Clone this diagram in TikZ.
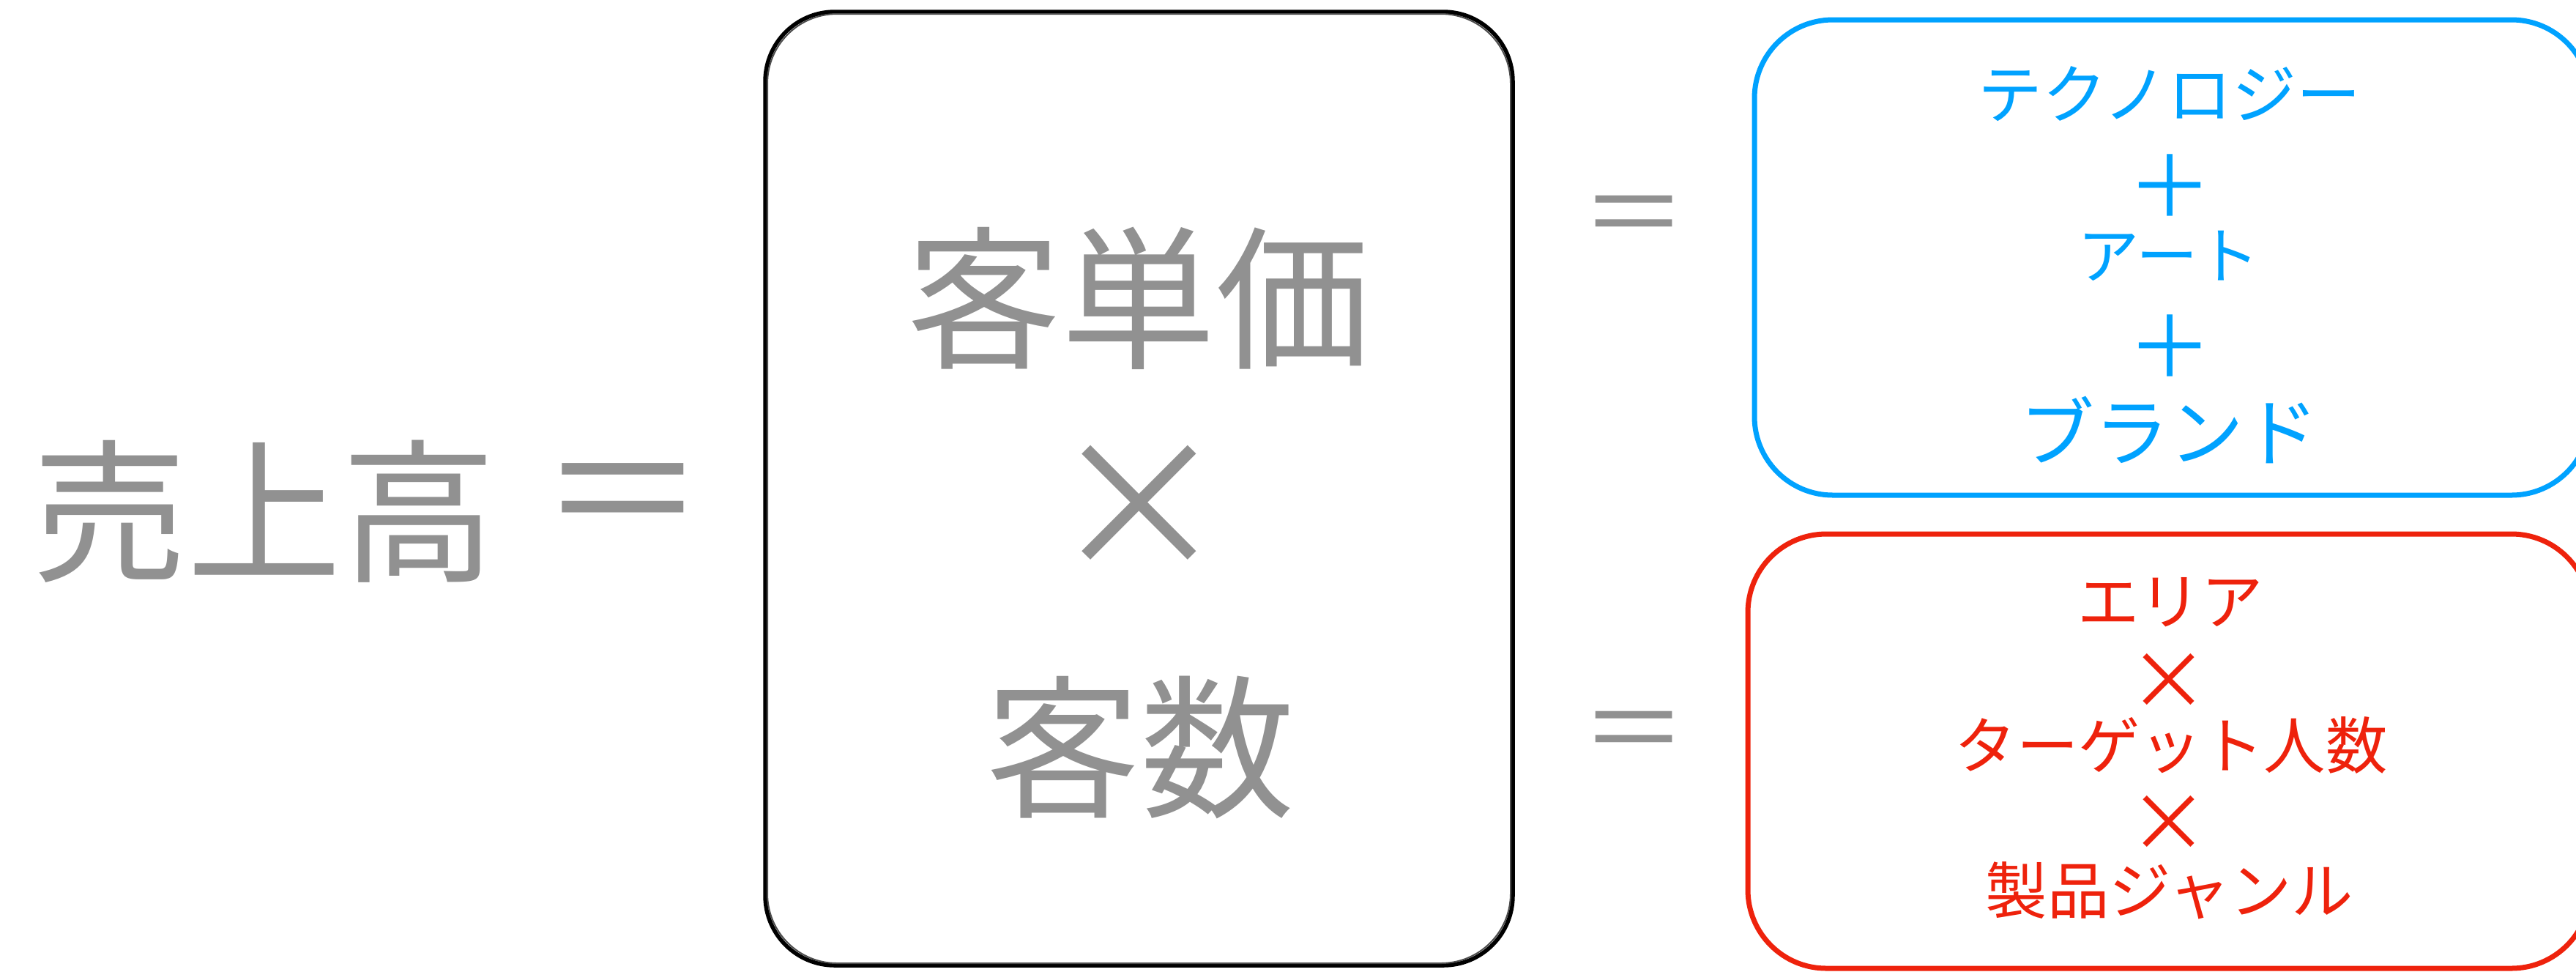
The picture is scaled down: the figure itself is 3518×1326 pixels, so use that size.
\documentclass[tikz,border=0pt]{standalone}
\usepackage{fontspec}
\setmainfont{Noto Sans CJK JP}
\definecolor{txtgray}{RGB}{145,145,145}
\definecolor{skyblue}{RGB}{0,162,255}
\definecolor{brickred}{RGB}{238,34,12}
\begin{document}
\begin{tikzpicture}[x=0.01cm, y=-0.01cm, line join=round, line cap=round,
  every node/.style={inner sep=0pt, outer sep=0pt},
  big/.style={text=txtgray, font=\fontsize{60}{60}\selectfont},
  small/.style={font=\fontsize{24}{24}\selectfont},
  sign/.style={font=\fontsize{33}{33}\selectfont}]
\useasboundingbox (0,0) rectangle (3518,1326);
% the three boxes
\draw[line width=0.055cm, rounded corners=0.95cm] (1045,16) rectangle (2066,1318);
\draw[black!70, line width=0.02cm, rounded corners=0.95cm] (1048,19) rectangle (2063,1315);
\draw[skyblue, line width=0.07cm, rounded corners=1.07cm] (2396,27) rectangle (3537,676);
\draw[brickred, line width=0.07cm, rounded corners=1.07cm] (2387,729) rectangle (3537,1322);
% left side
\node[big] (sales) at (361,698) {売上高};
\node[big, font=\fontsize{65}{65}\selectfont] (eq) at (851,693) {＝};
\node[big] (price) at (1555,407) {客単価};
\node[big, font=\fontsize{69}{69}\selectfont] (times) at (1556,693) {×};
\node[big] (count) at (1557,1021) {客数};
\foreach \y/\n in {305/eqa, 1009/eqb}
  \node[text=txtgray, font=\fontsize{41}{41}\selectfont] (\n) at (2232,\y) {＝};
% blue box
\node[skyblue, font=\fontsize{25}{25}\selectfont] (tech) at (2963,128) {テクノロジー};
\node[sign, skyblue] (plusa) at (2963,254) {＋};
\node[small, skyblue] (art) at (2962,349) {アート};
\node[sign, skyblue] (plusb) at (2963,473) {＋};
\node[skyblue, font=\fontsize{29}{29}\selectfont] (brand) at (2962,587) {ブランド};
% red box
\node[small, brickred] (area) at (2964,822) {エリア};
\node[sign, brickred, font=\fontsize{31}{31}\selectfont] (timesa) at (2962,930) {×};
\node[small, brickred] (target) at (2965,1017) {ターゲット人数};
\node[sign, brickred, font=\fontsize{31}{31}\selectfont] (timesb) at (2962,1124) {×};
\node[small, brickred] (genre) at (2963,1216) {製品ジャンル};
\end{tikzpicture}
\end{document}
